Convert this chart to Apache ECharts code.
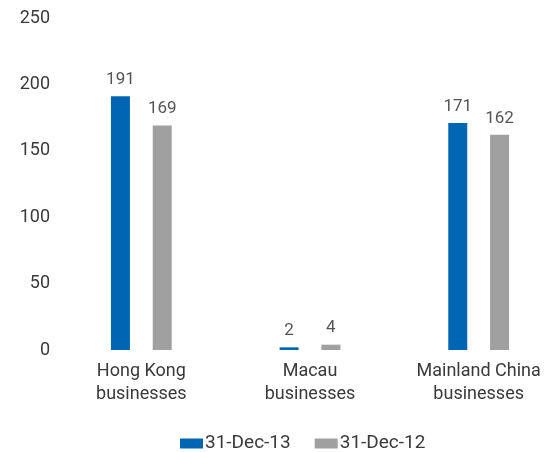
<!DOCTYPE html>
<html>
<head>
<meta charset="utf-8">
<script src="https://cdn.jsdelivr.net/npm/echarts@6/dist/echarts.min.js"></script>
<style>
  html, body { margin: 0; padding: 0; background: #fff; }
  #chart { width: 544px; height: 452px; }
</style>
</head>
<body>
<div id="chart"></div>
<script>
// data
const categories = ['Hong Kong\nbusinesses', 'Macau\nbusinesses', 'Mainland China\nbusinesses'];
const dec13 = [191, 2, 171];
const dec12 = [169, 4, 162];
const seriesNames = ['31-Dec-13', '31-Dec-12'];

let chart = echarts.init(document.getElementById('chart'));
let font = 'Roboto';

chart.setOption({
  animation: false,
  color: ['#0066b3', '#a0a0a0'],
  textStyle: { fontFamily: font },
  grid: { left: 57, top: 18, width: 506, height: 332, outerBoundsMode: 'none' },
  legend: {
    bottom: -6,
    left: 175,
    itemWidth: 23,
    itemHeight: 10,
    itemGap: 24,
    icon: 'rect',
    textStyle: { fontSize: 19, color: '#3a3a3a', fontFamily: font, padding: [0, 0, 0, -3] },
    data: seriesNames
  },
  xAxis: {
    type: 'category',
    data: categories,
    axisLine: { show: false },
    axisTick: { show: false },
    axisLabel: { fontSize: 18, color: '#3a3a3a', lineHeight: 23, margin: 10, interval: 0 }
  },
  yAxis: {
    type: 'value',
    min: 0,
    max: 250,
    interval: 50,
    splitLine: { show: false },
    axisLine: { show: false },
    axisTick: { show: false },
    axisLabel: { fontSize: 18, color: '#3a3a3a', margin: 7 }
  },
  series: [
    {
      name: seriesNames[0],
      type: 'bar',
      data: dec13,
      barWidth: 19,
      barGap: '120%',
      label: { show: true, position: 'top', fontSize: 17, color: '#555', distance: 8 }
    },
    {
      name: seriesNames[1],
      type: 'bar',
      data: dec12,
      barWidth: 19,
      label: { show: true, position: 'top', fontSize: 17, color: '#555', distance: 8 }
    }
  ]
});
</script>
</body>
</html>
